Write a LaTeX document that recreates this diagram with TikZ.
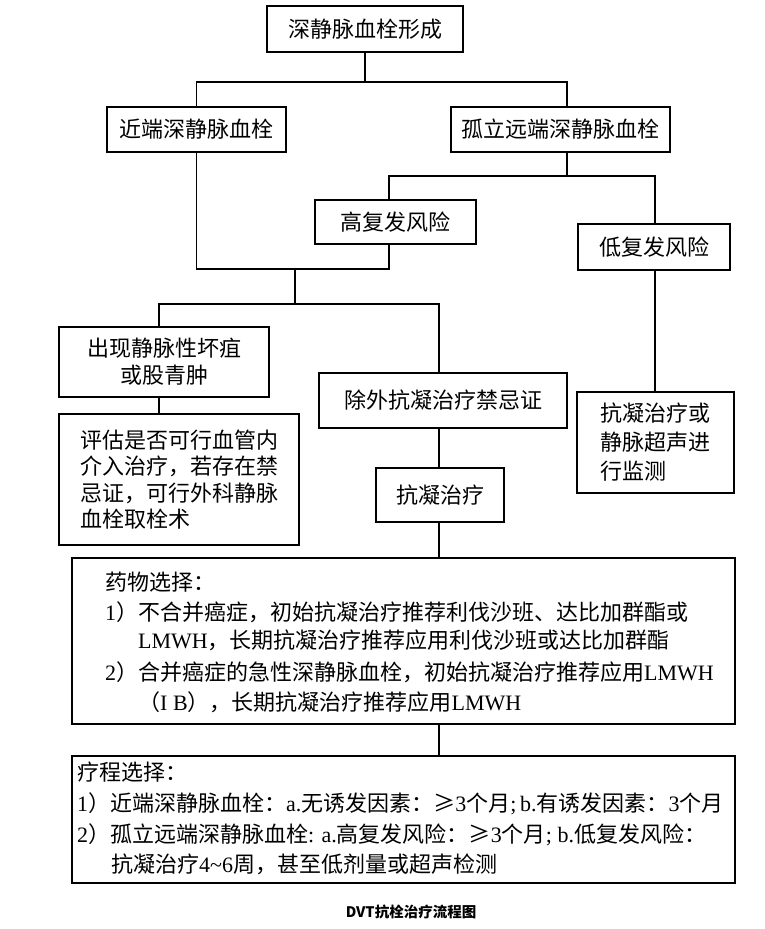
\documentclass[tikz,border=0pt]{standalone}
\usepackage{fontspec}
\setmainfont{Noto Sans CJK SC}
\newfontfamily\latserif{Liberation Serif}
\newcommand{\rl}[1]{{\latserif #1}}
\newcommand{\fsa}{\fontsize{22}{27}\selectfont}
\newcommand{\fsb}{\fontsize{22}{29}\selectfont}
\newcommand{\fsc}{\fontsize{22}{26.5}\selectfont}
\begin{document}
\begin{tikzpicture}[x=1pt,y=-1pt,
  box/.style={draw, line width=2.2pt, inner sep=0pt, font=\fsa},
  conn/.style={line width=1.1pt},
  txt/.style={anchor=west, inner sep=0pt, font=\fsa}]
\useasboundingbox (0,0) rectangle (765,929);
% connector x positions
\coordinate (xa) at (159,0);
\coordinate (xb) at (439,0);
\coordinate (xc) at (389,0);
\coordinate (xd) at (567,0);
\coordinate (xe) at (655,0);
% boxes
\node[box, minimum width=196, minimum height=46] (top) at (365,29) {深静脉血栓形成};
\node[box, minimum width=179, minimum height=45] (prox) at (196.5,129.5) {近端深静脉血栓};
\node[box, minimum width=219, minimum height=45] (dist) at (560.5,129.5) {孤立远端深静脉血栓};
\node[box, minimum width=161, minimum height=44] (high) at (395.5,222) {高复发风险};
\node[box, minimum width=152, minimum height=46] (low) at (654,247) {低复发风险};
\node[box, minimum width=210, minimum height=70, align=center] (gang) at (164,362) {出现静脉性坏疽\\或股青肿};
\node[box, minimum width=248, minimum height=55] (excl) at (443,400.5) {除外抗凝治疗禁忌证};
\node[box, minimum width=157, minimum height=101, align=left, font=\fsb] (mon) at (655.5,442.5) {抗凝治疗或\\静脉超声进\\行监测};
\node[box, minimum width=240, minimum height=131, align=left, font=\fsc] (eval) at (179,479.5) {评估是否可行血管内\\介入治疗，若存在禁\\忌证，可行外科静脉\\血栓取栓术};
\node[box, minimum width=128, minimum height=54] (anti) at (440,495) {抗凝治疗};
\node[box, minimum width=663, minimum height=166] (drug) at (403.5,641) {};
\node[box, minimum width=663, minimum height=127] (course) at (403.5,819.5) {};
% texts in the large boxes
\node[txt] (d1) at (105,582) {药物选择：};
\node[txt] (d2) at (105,612) {\rl{1}）不合并癌症，初始抗凝治疗推荐利伐沙班、达比加群酯或};
\node[txt] (d3) at (138,640) {\rl{LMWH}，长期抗凝治疗推荐应用利伐沙班或达比加群酯};
\node[txt] (d4) at (105,672) {\rl{2}）合并癌症的急性深静脉血栓，初始抗凝治疗推荐应用\rl{LMWH}};
\node[txt] (d5) at (138,702) {（\rl{I B}），长期抗凝治疗推荐应用\rl{LMWH}};
\node[txt] (c1) at (77,772) {疗程选择：};
\node[txt] (c2) at (77,804) {\rl{1}）近端深静脉血栓：\rl{a.}无诱发因素：≥\rl{3}个月\rl{;\,b.}有诱发因素：\rl{3}个月};
\node[txt] (c3) at (77,835) {\rl{2}）孤立远端深静脉血栓\rl{: a.}高复发风险：≥\rl{3}个月\rl{; b.}低复发风险：};
\node[txt] (c4) at (111,864) {抗凝治疗\rl{4\textasciitilde6}周，甚至低剂量或超声检测};
% caption
\node[inner sep=0pt, font=\fontsize{14.5}{16}\selectfont\bfseries] (cap) at (411,912) {DVT抗栓治疗流程图};
% connectors
\coordinate (b1) at (365,82);
\draw[conn] (top.south) -- (b1);
\draw[conn] (prox.north) |- (b1) -| (dist.north -| xd);
\coordinate (b2) at (567,176);
\draw[conn] (dist.south -| xd) -- (b2);
\draw[conn] (high.north -| xc) |- (b2) -| (low.north -| xe);
\coordinate (b3) at (295,269);
\draw[conn] (prox.south) |- (b3);
\draw[conn] (high.south -| xc) |- (b3);
\coordinate (b4) at (295,304);
\draw[conn] (b3) -- (b4);
\draw[conn] (gang.north -| xa) |- (b4) -| (excl.north -| xb);
\draw[conn] (low.south -| xe) -- (mon.north -| xe);
\draw[conn] (gang.south -| xa) -- (eval.north -| xa);
\draw[conn] (excl.south -| xb) -- (anti.north -| xb);
\draw[conn] (anti.south -| xb) -- (drug.north -| xb);
\draw[conn] (drug.south -| xb) -- (course.north -| xb);
\end{tikzpicture}
\end{document}
